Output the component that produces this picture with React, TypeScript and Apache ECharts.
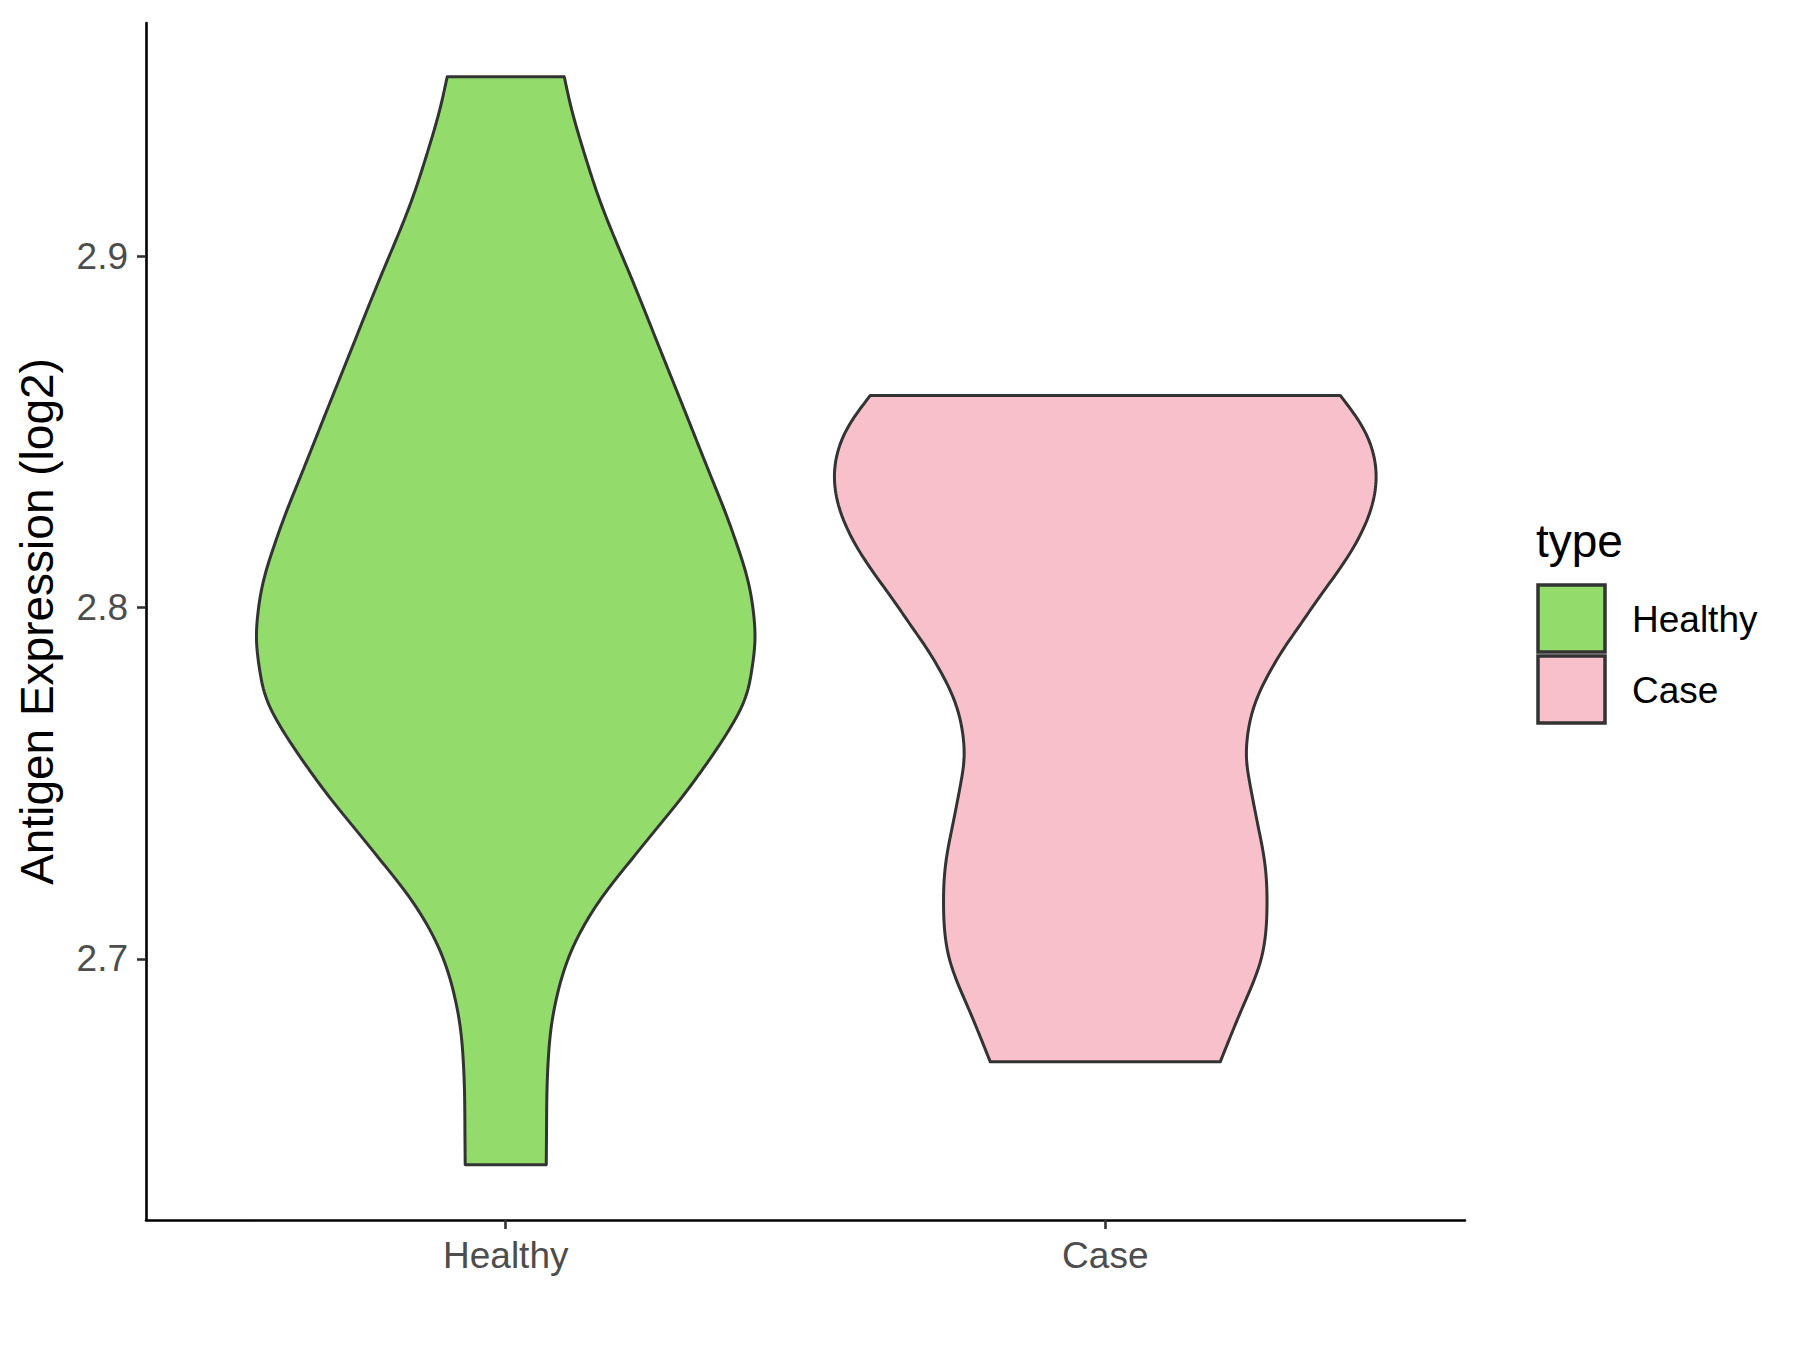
import React, { useEffect, useRef } from "react";
import * as echarts from "echarts";

const categories = ["Healthy", "Case"];
const fillColors = ["#93DB6B", "#F7C0CB"];
const yTicks = [2.7, 2.8, 2.9];

// Violin outlines: values (top -> bottom) and half widths (category units)
const healthyValues = [2.951, 2.9416, 2.9302, 2.9151, 2.8949, 2.8744, 2.8554, 2.8363, 2.8269, 2.8172, 2.8078, 2.7984, 2.7908, 2.7831, 2.7745, 2.7651, 2.7558, 2.7461, 2.7367, 2.7273, 2.7188, 2.7091, 2.6997, 2.6903, 2.6806, 2.6712, 2.6618, 2.6522, 2.6414];
const healthyHalfWidths = [0.0976, 0.1101, 0.1293, 0.1585, 0.2068, 0.2552, 0.2999, 0.3446, 0.3666, 0.387, 0.4037, 0.4133, 0.4157, 0.4112, 0.4, 0.3723, 0.3361, 0.2944, 0.2499, 0.2052, 0.166, 0.1293, 0.1034, 0.0867, 0.0759, 0.0709, 0.0687, 0.0681, 0.0676];
const caseValues = [2.8603, 2.852, 2.8367, 2.8266, 2.8138, 2.8011, 2.7947, 2.7883, 2.7819, 2.7757, 2.7691, 2.7629, 2.7566, 2.7503, 2.7438, 2.7375, 2.731, 2.7247, 2.7145, 2.6993, 2.6865, 2.6707];
const caseHalfWidths = [0.392, 0.4267, 0.4517, 0.4404, 0.402, 0.3495, 0.3236, 0.2977, 0.2752, 0.2569, 0.2435, 0.2369, 0.2357, 0.2407, 0.2479, 0.2552, 0.2627, 0.2677, 0.2697, 0.2589, 0.2297, 0.1918];

const violinValues = [healthyValues, caseValues];
const violinWidths = [healthyHalfWidths, caseHalfWidths];

// Natural cubic spline of x as a function of y (pixel space), used only for drawing a smooth outline
function splineSide(pts: number[][], step = 3): number[][] {
  const n = pts.length;
  const ys = pts.map((p) => p[1]);
  const xs = pts.map((p) => p[0]);
  const h: number[] = [];
  for (let i = 0; i < n - 1; i++) h.push(ys[i + 1] - ys[i]);
  const m = new Array(n).fill(0);
  if (n > 2) {
    const a: number[] = new Array(n).fill(0);
    const b: number[] = new Array(n).fill(1);
    const c: number[] = new Array(n).fill(0);
    const d: number[] = new Array(n).fill(0);
    for (let i = 1; i < n - 1; i++) {
      a[i] = h[i - 1];
      b[i] = 2 * (h[i - 1] + h[i]);
      c[i] = h[i];
      d[i] = 6 * ((xs[i + 1] - xs[i]) / h[i] - (xs[i] - xs[i - 1]) / h[i - 1]);
    }
    for (let i = 1; i < n; i++) {
      const w = a[i] / b[i - 1];
      b[i] -= w * c[i - 1];
      d[i] -= w * d[i - 1];
    }
    m[n - 1] = d[n - 1] / b[n - 1];
    for (let i = n - 2; i >= 0; i--) m[i] = (d[i] - c[i] * m[i + 1]) / b[i];
    m[0] = 0;
    m[n - 1] = 0;
  }
  const out: number[][] = [];
  for (let i = 0; i < n - 1; i++) {
    const hi = h[i];
    const segs = Math.max(1, Math.ceil(Math.abs(hi) / step));
    for (let k = 0; k < segs; k++) {
      const y = ys[i] + (hi * k) / segs;
      const A = (ys[i + 1] - y) / hi;
      const B = (y - ys[i]) / hi;
      const x =
        A * xs[i] +
        B * xs[i + 1] +
        ((A * A * A - A) * m[i] + (B * B * B - B) * m[i + 1]) * (hi * hi) / 6;
      out.push([x, y]);
    }
  }
  out.push(pts[n - 1]);
  return out;
}

const FONT = "'Liberation Sans', Arial, Helvetica, sans-serif";

export default function App() {
  const ref = useRef<HTMLDivElement>(null);
  useEffect(() => {
    if (!ref.current) return;
    const chart = echarts.init(ref.current, null, { renderer: "svg" });
    const option: any = {
      animation: false,
      backgroundColor: "#FFFFFF",
      textStyle: { fontFamily: FONT },
      grid: { left: 146, right: 335, top: 23, bottom: 130, outerBoundsMode: "none", containLabel: false },
      xAxis: {
        type: "value",
        min: 0.4,
        max: 2.6,
        axisLine: { show: true, onZero: false, lineStyle: { color: "#000000", width: 2.6 } },
        axisTick: { show: true, customValues: [1, 2], length: 9, lineStyle: { color: "#333333", width: 2.6 } },
        axisLabel: {
          customValues: [1, 2],
          formatter: (v: number) => categories[Math.round(v) - 1] || "",
          fontSize: 37,
          color: "#4D4D4D",
          margin: 17,
          fontFamily: FONT,
        },
        splitLine: { show: false },
      },
      yAxis: {
        type: "value",
        min: 2.6257,
        max: 2.9663,
        name: "Antigen Expression (log2)",
        nameLocation: "middle",
        nameRotate: 90,
        nameGap: 86,
        nameTextStyle: { fontSize: 46, color: "#000000", fontFamily: FONT },
        axisLine: { show: true, onZero: false, lineStyle: { color: "#000000", width: 2.6 } },
        axisTick: { show: true, customValues: yTicks, length: 9, lineStyle: { color: "#333333", width: 2.6 } },
        axisLabel: {
          customValues: yTicks,
          formatter: (v: number) => v.toFixed(1),
          fontSize: 37,
          color: "#4D4D4D",
          margin: 18,
          fontFamily: FONT,
        },
        splitLine: { show: false },
      },
      series: [
        {
          type: "custom",
          coordinateSystem: "cartesian2d",
          data: [
            [1, 2.8],
            [2, 2.8],
          ],
          renderItem: (params: any, api: any) => {
            const idx = params.dataIndex;
            const vals = violinValues[idx];
            const ws = violinWidths[idx];
            const center = idx + 1;
            const right = vals.map((v, i) => api.coord([center + ws[i], v]));
            const left = vals.map((v, i) => api.coord([center - ws[i], v]));
            const pts = splineSide(right).concat(splineSide(left).reverse());
            return {
              type: "polygon",
              shape: { points: pts },
              style: {
                fill: fillColors[idx],
                stroke: "#333333",
                lineWidth: 3,
                lineJoin: "round",
              },
            };
          },
        },
      ],
      graphic: [
        {
          type: "text",
          left: 1536,
          top: 518,
          style: { text: "type", fontSize: 46, fill: "#000000", fontFamily: FONT },
        },
        {
          type: "rect",
          shape: { x: 1538, y: 585, width: 67, height: 67 },
          style: { fill: fillColors[0], stroke: "#333333", lineWidth: 3.5 },
        },
        {
          type: "rect",
          shape: { x: 1538, y: 656, width: 67, height: 67 },
          style: { fill: fillColors[1], stroke: "#333333", lineWidth: 3.5 },
        },
        {
          type: "text",
          x: 1632,
          y: 619,
          style: { text: categories[0], fontSize: 37, fill: "#000000", fontFamily: FONT, verticalAlign: "middle" },
        },
        {
          type: "text",
          x: 1632,
          y: 690,
          style: { text: categories[1], fontSize: 37, fill: "#000000", fontFamily: FONT, verticalAlign: "middle" },
        },
      ],
    };
    chart.setOption(option);
    return () => chart.dispose();
  }, []);
  return (
    <div
      ref={ref}
      style={{ position: "fixed", left: 0, top: 0, width: 1800, height: 1350, background: "#FFFFFF" }}
    />
  );
}
